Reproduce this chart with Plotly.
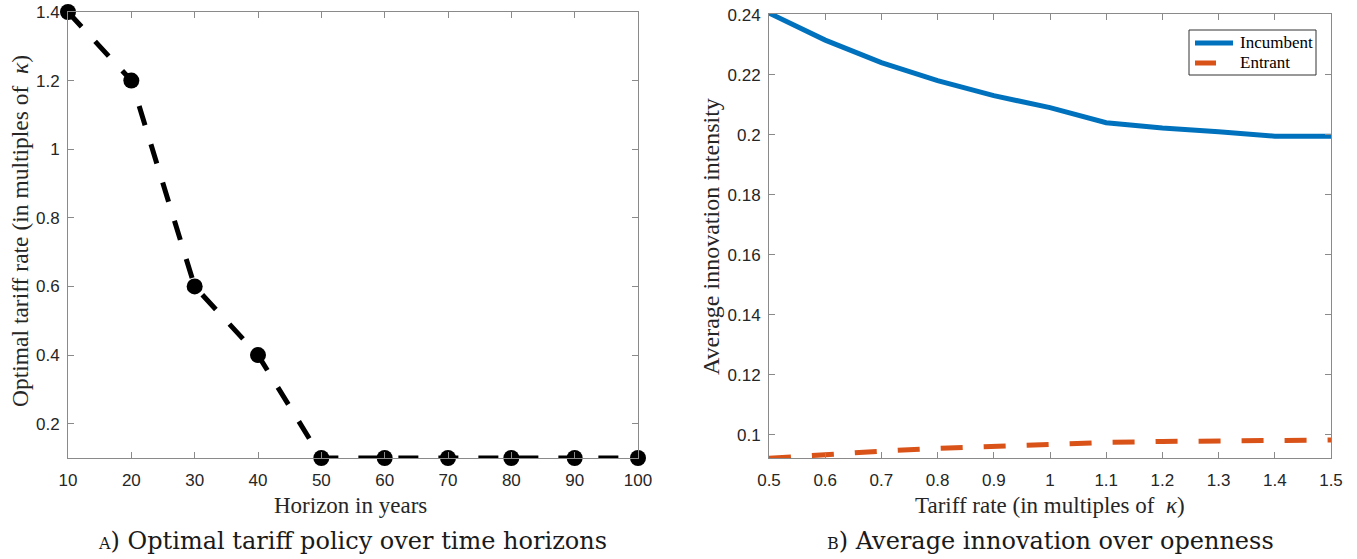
import plotly.graph_objects as go

# Panel A data
horizon_years = [10, 20, 30, 40, 50, 60, 70, 80, 90, 100]
optimal_tariff = [1.4, 1.2, 0.6, 0.4, 0.1, 0.1, 0.1, 0.1, 0.1, 0.1]

# Panel B data
tariff_rate = [0.5, 0.6, 0.7, 0.8, 0.9, 1.0, 1.1, 1.2, 1.3, 1.4, 1.5]
incumbent = [0.2405, 0.2315, 0.2240, 0.2180, 0.2130, 0.2090, 0.2040, 0.2022, 0.2010, 0.1995, 0.1995]
entrant = [0.0922, 0.0935, 0.0946, 0.0955, 0.0962, 0.0968, 0.0975, 0.0978, 0.0980, 0.0982, 0.0983]
series_names = ["Incumbent", "Entrant"]

left_yticks = [0.2, 0.4, 0.6, 0.8, 1.0, 1.2, 1.4]
right_yticks = [0.1, 0.12, 0.14, 0.16, 0.18, 0.2, 0.22, 0.24]

W, H = 1357, 559
serif = "Liberation Serif, Times New Roman, serif"
cap_serif = "DejaVu Serif, serif"
sans = "Liberation Sans, Arial, sans-serif"
axis_grey = "#8a8a8a"
tick_col = "#262626"
blue = "#0072BD"
orange = "#D95319"


def px_x(p):
    return p / W


def px_y(p):
    return 1 - p / H


fig = go.Figure()

fig.add_trace(go.Scatter(
    x=horizon_years, y=optimal_tariff, mode="lines+markers",
    line=dict(color="black", width=5, dash="20px,20px"),
    marker=dict(symbol="circle", size=16, color="black"),
    cliponaxis=False, showlegend=False, xaxis="x", yaxis="y"))

fig.add_trace(go.Scatter(
    x=tariff_rate, y=incumbent, mode="lines", name=series_names[0],
    line=dict(color=blue, width=5),
    cliponaxis=True, showlegend=False, xaxis="x2", yaxis="y2"))
fig.add_trace(go.Scatter(
    x=tariff_rate, y=entrant, mode="lines", name=series_names[1],
    line=dict(color=orange, width=5, dash="22px,21px"),
    cliponaxis=True, showlegend=False, xaxis="x2", yaxis="y2"))

common = dict(showline=True, linecolor=axis_grey, linewidth=1, mirror="ticks",
              ticks="inside", ticklen=6, tickcolor=axis_grey, showgrid=False,
              zeroline=False, tickfont=dict(family=sans, size=17, color=tick_col))

fig.update_layout(
    width=W, height=H,
    margin=dict(l=0, r=0, t=0, b=0, autoexpand=False),
    paper_bgcolor="white", plot_bgcolor="white",
    xaxis=dict(domain=[px_x(68), px_x(638)], range=[10, 100], tickvals=horizon_years,
               anchor="y", ticklabelstandoff=7, **common),
    yaxis=dict(domain=[px_y(458), px_y(12)], range=[0.1, 1.4], tickvals=left_yticks,
               anchor="x", ticklabelstandoff=4, **common),
    xaxis2=dict(domain=[px_x(769), px_x(1331)], range=[0.5, 1.5], tickvals=tariff_rate,
                anchor="y2", ticklabelstandoff=7, **common),
    yaxis2=dict(domain=[px_y(458), px_y(14)], range=[0.0923, 0.2402], tickvals=right_yticks,
                anchor="x2", ticklabelstandoff=4, **common),
    showlegend=False,
)

# legend box (drawn manually to match the compact MATLAB legend)
fig.add_shape(type="rect", xref="paper", yref="paper",
              x0=px_x(1189), x1=px_x(1316), y0=px_y(75), y1=px_y(30),
              line=dict(color="#333333", width=1), fillcolor="white")
fig.add_shape(type="line", xref="paper", yref="paper",
              x0=px_x(1195), x1=px_x(1233), y0=px_y(43), y1=px_y(43),
              line=dict(color=blue, width=5))
fig.add_shape(type="line", xref="paper", yref="paper",
              x0=px_x(1195), x1=px_x(1216), y0=px_y(63), y1=px_y(63),
              line=dict(color=orange, width=5))

annos = [
    dict(text=series_names[0], x=px_x(1238), y=px_y(43), xanchor="left",
         font=dict(size=17, color="black")),
    dict(text=series_names[1], x=px_x(1238), y=px_y(63), xanchor="left",
         font=dict(size=17, color="black")),
    dict(text="Horizon in years", x=px_x(350), y=px_y(505), font=dict(size=23)),
    dict(text="Optimal tariff rate (in multiples of  <i>κ</i>)", x=px_x(20), y=px_y(231),
         textangle=-90, font=dict(size=23.5)),
    dict(text="<span style='font-size:16px'>A</span>) Optimal tariff policy over time horizons",
         x=px_x(352), y=px_y(541), font=dict(size=24, family=cap_serif, color="#1a1a1a")),
    dict(text="Tariff rate (in multiples of  <i>κ</i>)", x=px_x(1050), y=px_y(505), font=dict(size=23)),
    dict(text="Average innovation intensity", x=px_x(711), y=px_y(237),
         textangle=-90, font=dict(size=24)),
    dict(text="<span style='font-size:16px'>B</span>) Average innovation over openness",
         x=px_x(1050), y=px_y(541), font=dict(size=24, family=cap_serif, color="#1a1a1a")),
]
for a in annos:
    f = dict(family=serif, color="#262626")
    f.update(a.pop("font"))
    kw = dict(xanchor="center", yanchor="middle")
    kw.update(a)
    fig.add_annotation(xref="paper", yref="paper", showarrow=False, font=f, **kw)

fig.write_html("out.html", config={"displayModeBar": False},
               post_script="document.body.style.margin='0px';")
